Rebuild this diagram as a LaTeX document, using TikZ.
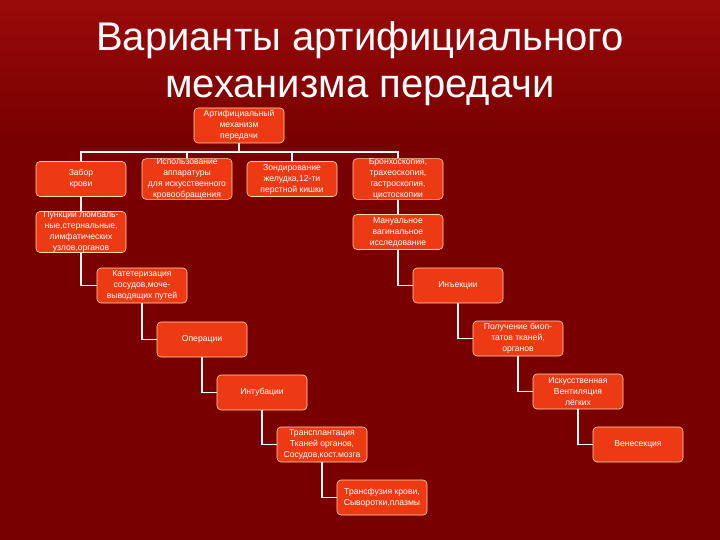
\documentclass[tikz,border=0pt]{standalone}
\usepackage{fontspec}
\setmainfont{Liberation Sans}
\begin{document}
\begin{tikzpicture}[x=1pt,y=-1pt,
  bx/.style={draw=orange!30!white,line width=0.6pt,fill=boxc,rounded corners=4pt,minimum width=90pt,minimum height=35pt,inner sep=0pt,align=center,text=white,font=\fontsize{8.6}{11}\selectfont},
  ln/.style={draw=white!90!pink,line width=1.6pt}]
\definecolor{bg}{HTML}{780000}
\definecolor{bgt}{HTML}{9A0A0A}
\definecolor{boxc}{HTML}{EE3A12}
\useasboundingbox (0,0) rectangle (720,540);
\fill[bg] (0,0) rectangle (720,540);
\shade[top color=bgt,bottom color=bg] (0,0) rectangle (720,140);
\node[text=white,font=\fontsize{40}{47}\selectfont,align=center] (t) at (360,64) {Варианты артифициального\\механизма передачи};
\node[bx] (r) at (239,125.5) {Артифициальный\\механизм\\передачи};
\node[bx] (a1) at (81,179) {Забор\\крови};
\node[bx] (a2) at (187,179) {Использование\\аппаратуры\\для искусственного\\кровообращения};
\node[bx] (a3) at (292,179) {Зондирование\\желудка,12-ти\\перстной кишки};
\node[bx] (a4) at (398,179) {Бронхоскопия,\\трахеоскопия,\\гастроскопия,\\цистоскопии};
\node[bx] (p) at (81,232) {Пункции люмбаль-\\ные,стернальные,\\лимфатических\\узлов,органов};
\node[bx] (m) at (398,232) {Мануальное\\вагинальное\\исследование};
\node[bx] (k) at (142,285.5) {Катетеризация\\сосудов,моче-\\выводящих путей};
\node[bx] (i) at (458,285.5) {Инъекции};
\node[bx] (o) at (202,339.5) {Операции};
\node[bx] (pb) at (518,338.5) {Получение биоп-\\татов тканей,\\органов};
\node[bx] (in) at (262,392.5) {Интубации};
\node[bx] (iv) at (578,391.5) {Искусственная\\Вентиляция\\лёгких};
\node[bx] (tr) at (322,444.5) {Трансплантация\\Тканей органов,\\Сосудов,кост.мозга};
\node[bx] (v) at (638,444.5) {Венесекция};
\node[bx] (tf) at (382,497.5) {Трансфузия крови,\\Сыворотки,плазмы};
\draw[ln] (r.south) -- (239,152);
\draw[ln] (a1.north) -- (81,152) -- (398,152) -- (a4.north);
\draw[ln] (a2.north) -- (187,152);
\draw[ln] (a3.north) -- (292,152);
\draw[ln] (a1.south) -- (p.north);
\draw[ln] (p.south) -- (81,285.5) -- (k.west);
\draw[ln] (a4.south) -- (m.north);
\draw[ln] (m.south) -- (398,285.5) -- (i.west);
\draw[ln] (k.south) -- (142,339.5) -- (o.west);
\draw[ln] (i.south) -- (458,338.5) -- (pb.west);
\draw[ln] (o.south) -- (202,392.5) -- (in.west);
\draw[ln] (pb.south) -- (518,391.5) -- (iv.west);
\draw[ln] (in.south) -- (262,444.5) -- (tr.west);
\draw[ln] (iv.south) -- (578,444.5) -- (v.west);
\draw[ln] (tr.south) -- (322,497.5) -- (tf.west);
\end{tikzpicture}
\end{document}
